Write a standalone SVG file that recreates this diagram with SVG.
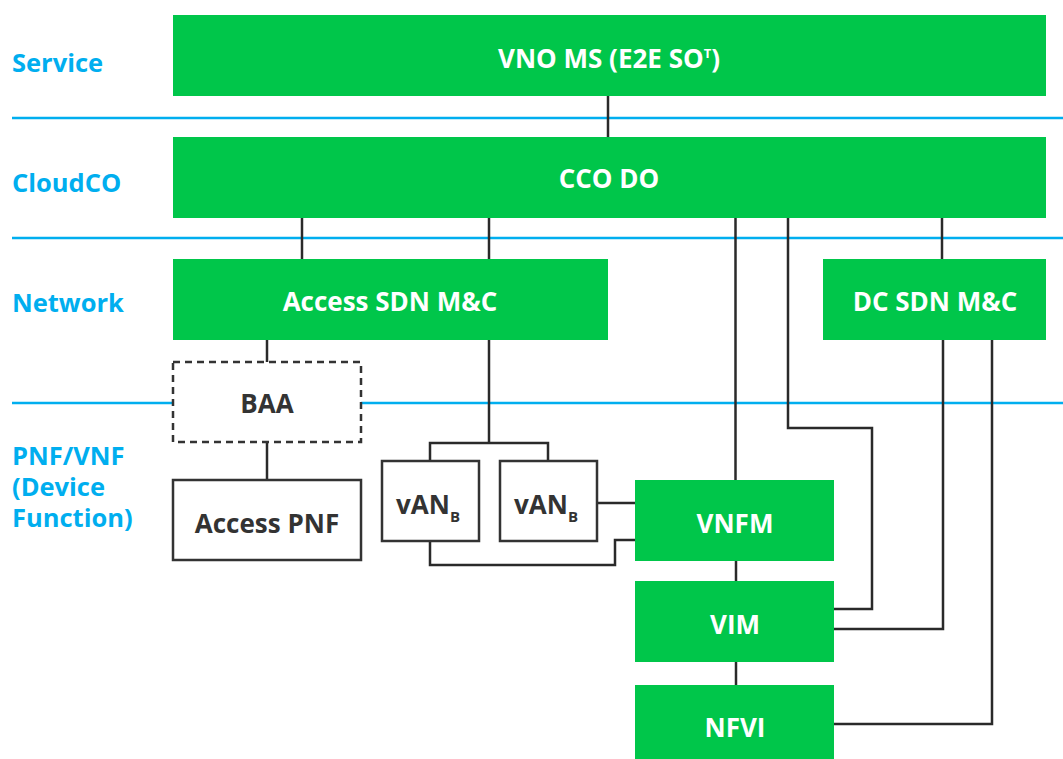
<svg xmlns="http://www.w3.org/2000/svg" width="1063" height="759" viewBox="0 0 1063 759">
<style>
.g{fill:#00c64a}
.w{fill:#fff;font-family:"Open Sans",Lato,sans-serif;font-weight:700;font-size:26px;text-anchor:middle}
.d{fill:#333;font-family:"Open Sans",Lato,sans-serif;font-weight:700;font-size:26px;text-anchor:middle}
.lbl{fill:#00aeef;font-family:"Open Sans",Lato,sans-serif;font-weight:700;font-size:25.5px}
.sep{stroke:#00aeef;stroke-width:2.5;fill:none}
.c{stroke:#2a2a2a;stroke-width:2.5;fill:none}
.box{fill:#fff;stroke:#333;stroke-width:2.5}
</style>
<rect width="1063" height="759" fill="#fff"/>
<g id="lanes">
<line class="sep" x1="12" y1="118" x2="1063" y2="118"/>
<line class="sep" x1="12" y1="238" x2="1063" y2="238"/>
<line class="sep" x1="12" y1="403" x2="1063" y2="403"/>
<text class="lbl" x="12" y="72">Service</text>
<text class="lbl" x="12" y="192">CloudCO</text>
<text class="lbl" x="12" y="312">Network</text>
<text class="lbl" x="12" y="465">PNF/VNF</text>
<text class="lbl" x="12" y="496">(Device</text>
<text class="lbl" x="12" y="527">Function)</text>
</g>
<g id="connectors">
<line class="c" x1="608" y1="96" x2="608" y2="137"/>
<line class="c" x1="302" y1="218" x2="302" y2="259"/>
<line class="c" x1="489" y1="218" x2="489" y2="259"/>
<line class="c" x1="942" y1="218" x2="942" y2="259"/>
<line class="c" x1="735.5" y1="218" x2="735.5" y2="480"/>
<polyline class="c" points="788,218 788,428 872,428 872,609 834,609"/>
<polyline class="c" points="943,340 943,629 834,629"/>
<polyline class="c" points="992,340 992,724 834,724"/>
<line class="c" x1="736" y1="560" x2="736" y2="581"/>
<line class="c" x1="736" y1="661" x2="736" y2="685"/>
<line class="c" x1="267" y1="340" x2="267" y2="362"/>
<line class="c" x1="267" y1="442" x2="267" y2="480"/>
<polyline class="c" points="489,340 489,443"/>
<polyline class="c" points="430,461 430,443 548,443 548,461"/>
<line class="c" x1="597" y1="503" x2="635" y2="503"/>
<polyline class="c" points="430,541 430,565 615,565 615,540 635,540"/>
</g>
<g id="vno-ms">
<rect class="g" x="173" y="15" width="873" height="81"/>
<text class="w" x="609" y="68">VNO MS (E2E SO<tspan font-size="13" dy="-10">T</tspan><tspan dy="10">)</tspan></text>
</g>
<g id="cco-do">
<rect class="g" x="173" y="137" width="873" height="81"/>
<text class="w" x="609" y="188">CCO DO</text>
</g>
<g id="access-sdn">
<rect class="g" x="173" y="259" width="435" height="81"/>
<text class="w" x="390" y="311">Access SDN M&amp;C</text>
</g>
<g id="dc-sdn">
<rect class="g" x="823" y="259" width="223" height="81"/>
<text class="w" x="935" y="311">DC SDN M&amp;C</text>
</g>
<g id="baa">
<rect x="173" y="362" width="188" height="80" fill="#fff" stroke="#333" stroke-width="2.5" stroke-dasharray="7,5"/>
<text class="d" x="267" y="413">BAA</text>
</g>
<g id="access-pnf">
<rect class="box" x="173" y="480" width="188" height="80"/>
<text class="d" x="267" y="533">Access PNF</text>
</g>
<g id="van1">
<rect class="box" x="382" y="461" width="97" height="80"/>
<text class="d" x="428" y="514">vAN<tspan font-size="15" dy="8">B</tspan></text>
</g>
<g id="van2">
<rect class="box" x="500" y="461" width="97" height="80"/>
<text class="d" x="546" y="514">vAN<tspan font-size="15" dy="8">B</tspan></text>
</g>
<g id="vnfm">
<rect class="g" x="635" y="480" width="199" height="81"/>
<text class="w" x="735" y="533">VNFM</text>
</g>
<g id="vim">
<rect class="g" x="635" y="581" width="199" height="81"/>
<text class="w" x="735" y="634">VIM</text>
</g>
<g id="nfvi">
<rect class="g" x="635" y="685" width="199" height="75"/>
<text class="w" x="735" y="737">NFVI</text>
</g>
</svg>
